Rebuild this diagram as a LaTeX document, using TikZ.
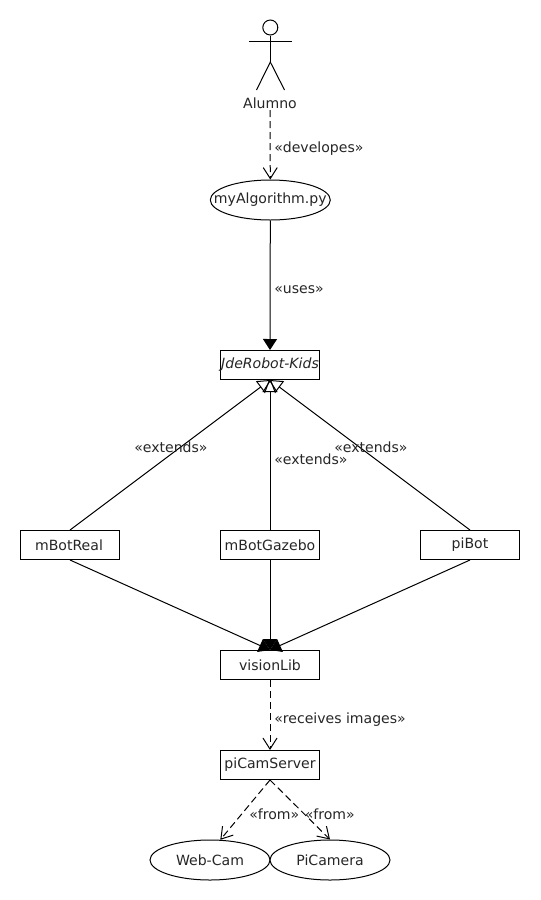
\documentclass[tikz,border=0pt]{standalone}
\usepackage{fontspec}
\setmainfont{DejaVu Sans}
\usetikzlibrary{arrows.meta,shapes.geometric}
\newcommand{\zw}[1]{\makebox[0pt][c]{#1}}
\tikzset{
  every node/.style={font=\fontsize{10.55}{12}\selectfont,text=black!85},
  umlbox/.style={draw=black,text=black!85,fill=white,rectangle,minimum width=74.25pt,minimum height=21.75pt,inner sep=0pt,line width=0.75pt},
  usecase/.style={draw=black,fill=white,ellipse,minimum width=90pt,minimum height=30pt,inner sep=0pt,line width=0.75pt},
  lab/.style={anchor=west,inner sep=0pt},
  assoc/.style={line width=0.75pt,-{Triangle[length=8.25pt,width=10.5pt,fill=black]}},
  gener/.style={line width=0.75pt,-{Triangle[length=9pt,width=11.25pt,fill=white,open]}},
  depend/.style={line width=0.75pt,dash pattern=on 5.25pt off 3pt,-{Straight Barb[length=8.25pt,width=10.5pt]}},
  limb/.style={line width=0.75pt,draw=black}
}
\begin{document}
\begin{tikzpicture}[x=0.75pt,y=-0.75pt]
\useasboundingbox (0,0) rectangle (540,900);
% actor
\node[circle,draw=black,line width=0.75pt,minimum size=11.25pt,inner sep=0pt] (head) at (270.3,27.5) {};
\coordinate (hip) at (270.3,62);
\coordinate (armL) at (249,41);
\coordinate (armR) at (292,41);
\coordinate (legL) at (256.5,90);
\coordinate (legR) at (284.5,90);
\draw[limb] (head.south) -- (hip);
\draw[limb] (armL) -- (armR);
\draw[limb] (legL) -- (hip) -- (legR);
\node[inner sep=0pt] (alumno) at (270,103.5) {Alumno};
% nodes
\node[usecase] (algo) at (270.3,200) {\zw{\raisebox{-0.75pt}{myAlgorithm.py}}};
\node[umlbox] (kids) at (270,365) {\zw{\textit{JdeRobot-Kids}}};
\node[umlbox] (real) at (70,545) {\hspace*{-1.5pt}mBotReal};
\node[umlbox] (gazebo) at (270,545) {mBotGazebo};
\node[umlbox] (pibot) at (470,545) {piBot};
\node[umlbox] (vision) at (270,665) {visionLib};
\node[umlbox] (server) at (270,765) {piCamServer};
\node[usecase] (webcam) at (210,860) {Web-Cam};
\node[usecase] (picam) at (330,860) {PiCamera};
% connectors
\draw[depend] (alumno.south) ++(0,1) -- (algo.north);
\draw[assoc] (algo.south) -- (kids.north);
\draw[gener] (real.north) -- (kids.south);
\draw[gener] (gazebo.north) -- (kids.south);
\draw[gener] (pibot.north) -- (kids.south);
\draw[assoc] (real.south) -- (vision.north);
\draw[assoc] (gazebo.south) -- (vision.north);
\draw[assoc] (pibot.south) -- (vision.north);
\draw[depend] (vision.south) -- (server.north);
\draw[depend] (server.south) -- (webcam.63);
\draw[depend] (server.south) -- (picam.north);
% labels
\node[lab] (l1) at (274,149) {«developes»};
\node[lab] (l2) at (274,289.5) {«uses»};
\node[lab] (l3) at (134,447) {«extends»};
\node[lab] (l4) at (274,459) {«extends»};
\node[lab] (l5) at (334,447) {«extends»};
\node[lab] (l6) at (274,719.5) {«receives images»};
\node[lab] (l7) at (249,814) {«from»};
\node[lab] (l8) at (304.5,814) {«from»};
\end{tikzpicture}
\end{document}
